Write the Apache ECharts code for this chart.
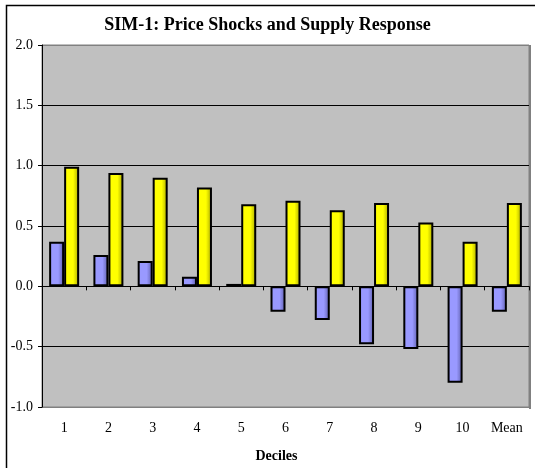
<!DOCTYPE html>
<html>
<head>
<meta charset="utf-8">
<script src="https://cdn.jsdelivr.net/npm/echarts@6/dist/echarts.min.js"></script>
<style>
	html, body { margin: 0; padding: 0; background: #fff; }
	#chart { width: 535px; height: 468px; }
</style>
</head>
<body>
<div id="chart"></div>
<script>
	// deciles on the x axis, last one is the mean
	let deciles = ['1', '2', '3', '4', '5', '6', '7', '8', '9', '10', 'Mean'];
	let priceShock = [0.37, 0.26, 0.21, 0.08, 0.02, -0.21, -0.28, -0.48, -0.52, -0.80, -0.21];
	let supplyResponse = [0.99, 0.94, 0.90, 0.82, 0.68, 0.71, 0.63, 0.69, 0.53, 0.37, 0.69];
	let yTicks = [-1.0, -0.5, 0.0, 0.5, 1.0, 1.5, 2.0];

	let font = 'Liberation Serif';

	function barColor(edge, mid) {
		return new echarts.graphic.LinearGradient(0, 0, 1, 0, [
			{ offset: 0, color: mid },
			{ offset: 0.6, color: mid },
			{ offset: 1, color: edge }
		]);
	}

	let chart = echarts.init(document.getElementById('chart'));
	let option = {
		animation: false,
		backgroundColor: '#fff',
		title: {
			text: 'SIM-1: Price Shocks and Supply Response',
			left: 'center',
			top: 11,
			textStyle: { fontFamily: font, fontWeight: 'bold', fontSize: 18, color: '#000' }
		},
		grid: {
			left: 42,
			top: 45,
			width: 487,
			height: 363,
			show: true,
			backgroundColor: '#C0C0C0',
			borderColor: '#808080',
			borderWidth: 1
		},
		xAxis: [{
			// zero line with the category ticks
			type: 'category',
			data: deciles,
			position: 'top',
			axisLine: { onZero: true, lineStyle: { color: '#000', width: 1 } },
			axisTick: { show: true, inside: true, length: 4, lineStyle: { color: '#000' } },
			axisLabel: { show: false },
			splitLine: { show: false }
		}, {
			type: 'category',
			data: deciles,
			position: 'bottom',
			axisLine: { show: false, onZero: false },
			axisTick: { show: false },
			axisLabel: { fontFamily: font, fontSize: 14, color: '#000', margin: 14 },
			name: 'Deciles',
			nameLocation: 'middle',
			nameGap: 42,
			nameTextStyle: {
				fontFamily: font, fontWeight: 'bold', fontSize: 14, color: '#000',
				padding: [0, 18, 0, 0]
			}
		}],
		yAxis: {
			type: 'value',
			min: yTicks[0],
			max: yTicks[yTicks.length - 1],
			interval: 0.5,
			axisLine: { show: true, lineStyle: { color: '#000' } },
			axisTick: { show: true, length: 4, lineStyle: { color: '#000' } },
			axisLabel: {
				fontFamily: font, fontSize: 14, color: '#000', margin: 9,
				formatter: v => v.toFixed(1)
			},
			splitLine: {
				show: true,
				lineStyle: { color: ['#808080', '#000', '#000', '#000', '#000', '#000', '#808080'], width: 1 }
			}
		},
		series: [{
			name: 'Price shock',
			type: 'bar',
			xAxisIndex: 0,
			data: priceShock,
			barWidth: 15,
			barGap: '0%',
			itemStyle: {
				color: barColor('#5c5ca8', '#9999FF'),
				borderColor: '#000',
				borderWidth: 2
			}
		}, {
			name: 'Supply response',
			type: 'bar',
			xAxisIndex: 0,
			data: supplyResponse,
			barWidth: 15,
			barGap: '0%',
			itemStyle: {
				color: barColor('#a6a600', '#FFFF00'),
				borderColor: '#000',
				borderWidth: 2
			}
		}],
		graphic: [{
			type: 'rect',
			shape: { x: 6.5, y: 5.5, width: 540, height: 480 },
			style: { fill: null, stroke: '#000', lineWidth: 1.5 },
			silent: true
		}, {
			type: 'rect',
			shape: { x: 529, y: 45, width: 2, height: 364 },
			style: { fill: '#808080' },
			silent: true
		}]
	};
	chart.setOption(option);
	window.addEventListener('resize', function() {
		chart.resize();
	});
</script>
</body>
</html>
